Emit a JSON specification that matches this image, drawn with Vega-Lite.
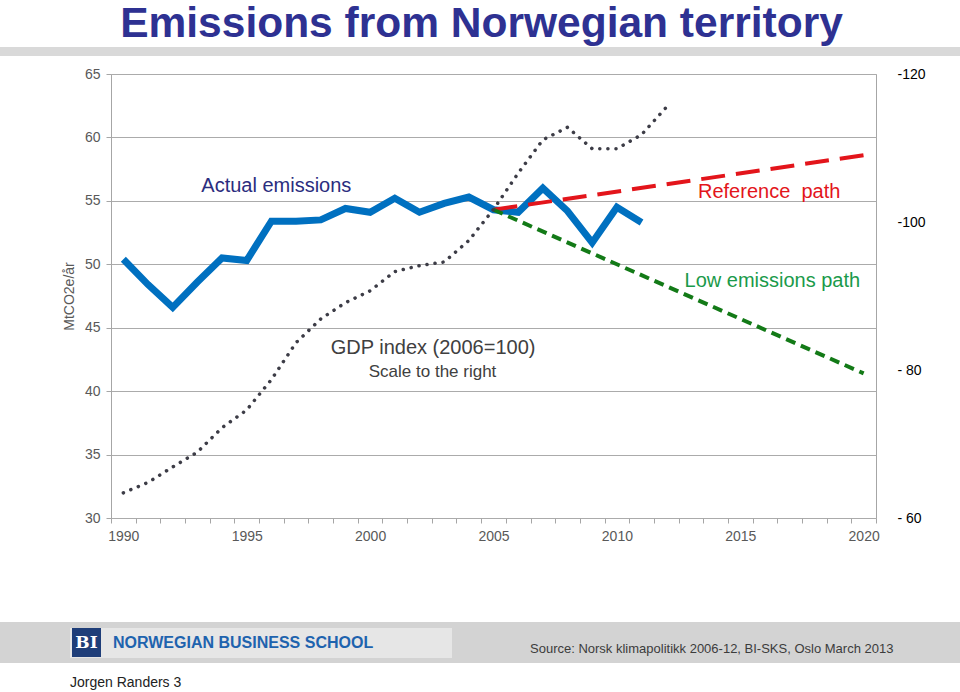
{
  "$schema": "https://vega.github.io/schema/vega-lite/v6.json",
  "autosize": {"type": "none"},
  "width": 765,
  "height": 444,
  "padding": {"left": 111, "top": 74, "right": 84, "bottom": 174},
  "background": "white",
  "title": {
    "text": "Emissions from Norwegian territory",
    "font": "Liberation Sans",
    "fontSize": 42.5,
    "fontWeight": "bold",
    "color": "#2E3192",
    "anchor": "middle",
    "frame": "group",
    "offset": 2,
    "dx": -12
  },
  "config": {
    "view": {"stroke": "#a6a6a6", "strokeWidth": 1},
    "font": "Liberation Sans",
    "axis": {
      "labelFont": "Liberation Sans",
      "titleFont": "Liberation Sans",
      "labelColor": "#595959",
      "labelFontSize": 14,
      "tickColor": "#a6a6a6",
      "domainColor": "#a6a6a6",
      "gridColor": "#ababab"
    }
  },
  "datasets": {
    "actual": [
      {"year": 1990, "emissions": 50.4},
      {"year": 1991, "emissions": 48.4},
      {"year": 1992, "emissions": 46.6},
      {"year": 1993, "emissions": 48.6},
      {"year": 1994, "emissions": 50.5},
      {"year": 1995, "emissions": 50.3},
      {"year": 1996, "emissions": 53.4},
      {"year": 1997, "emissions": 53.4},
      {"year": 1998, "emissions": 53.5},
      {"year": 1999, "emissions": 54.4},
      {"year": 2000, "emissions": 54.1},
      {"year": 2001, "emissions": 55.2},
      {"year": 2002, "emissions": 54.1},
      {"year": 2003, "emissions": 54.8},
      {"year": 2004, "emissions": 55.3},
      {"year": 2005, "emissions": 54.3},
      {"year": 2006, "emissions": 54.1},
      {"year": 2007, "emissions": 56.0},
      {"year": 2008, "emissions": 54.2},
      {"year": 2009, "emissions": 51.7},
      {"year": 2010, "emissions": 54.5},
      {"year": 2011, "emissions": 53.3}
    ],
    "reference": [
      {"year": 2005, "emissions": 54.3},
      {"year": 2020, "emissions": 58.6}
    ],
    "low": [
      {"year": 2005, "emissions": 54.3},
      {"year": 2020, "emissions": 41.4}
    ],
    "gdp": [
      {"year": 1990, "gdp": 63.4},
      {"year": 1991, "gdp": 64.8},
      {"year": 1992, "gdp": 66.9},
      {"year": 1993, "gdp": 68.9},
      {"year": 1994, "gdp": 72.2},
      {"year": 1995, "gdp": 74.6},
      {"year": 1996, "gdp": 78.7},
      {"year": 1997, "gdp": 83.7},
      {"year": 1998, "gdp": 86.9},
      {"year": 1999, "gdp": 89.1},
      {"year": 2000, "gdp": 90.7},
      {"year": 2001, "gdp": 93.3},
      {"year": 2002, "gdp": 94.1},
      {"year": 2003, "gdp": 94.6},
      {"year": 2004, "gdp": 97.5},
      {"year": 2005, "gdp": 101.7},
      {"year": 2006, "gdp": 106.6},
      {"year": 2007, "gdp": 111.1},
      {"year": 2008, "gdp": 112.8},
      {"year": 2009, "gdp": 109.9},
      {"year": 2010, "gdp": 109.9},
      {"year": 2011, "gdp": 111.8},
      {"year": 2012, "gdp": 115.5}
    ]
  },
  "layer": [
    {
      "layer": [
        {
          "data": {"name": "actual"},
          "mark": {"type": "line", "color": "#0070C0", "strokeWidth": 7, "strokeJoin": "miter", "strokeCap": "butt"},
          "encoding": {
            "x": {
              "field": "year",
              "type": "quantitative",
              "scale": {"domain": [1989.5, 2020.5], "nice": false, "zero": false},
              "axis": {
                "orient": "bottom",
                "title": null,
                "values": [1989.5, 1990.5, 1991.5, 1992.5, 1993.5, 1994.5, 1995.5, 1996.5, 1997.5, 1998.5, 1999.5, 2000.5, 2001.5, 2002.5, 2003.5, 2004.5, 2005.5, 2006.5, 2007.5, 2008.5, 2009.5, 2010.5, 2011.5, 2012.5, 2013.5, 2014.5, 2015.5, 2016.5, 2017.5, 2018.5, 2019.5, 2020.5],
                "tickCount": 40,
                "labels": false,
                "tickSize": 5,
                "grid": false,
                "domain": false
              }
            },
            "y": {
              "field": "emissions",
              "type": "quantitative",
              "scale": {"domain": [30, 65], "nice": false, "zero": false},
              "axis": {
                "title": "MtCO2e/år",
                "titleFontSize": 14,
                "titleFontWeight": "normal",
                "titleColor": "#595959",
                "titlePadding": 8,
                "values": [30, 35, 40, 45, 50, 55, 60, 65],
                "grid": true,
                "tickSize": 5,
                "labelPadding": 6,
                "domain": false
              }
            }
          }
        },
        {
          "data": {"name": "reference"},
          "mark": {"type": "line", "color": "#E3151B", "strokeWidth": 4, "strokeDash": [24, 11]},
          "encoding": {
            "x": {"field": "year", "type": "quantitative"},
            "y": {"field": "emissions", "type": "quantitative"}
          }
        },
        {
          "data": {"name": "low"},
          "mark": {"type": "line", "color": "#137A17", "strokeWidth": 4, "strokeDash": [10, 6]},
          "encoding": {
            "x": {"field": "year", "type": "quantitative"},
            "y": {"field": "emissions", "type": "quantitative"}
          }
        },
        {
          "data": {"values": [{}]},
          "mark": {"type": "text", "text": "Actual emissions", "fontSize": 20, "color": "#2B2D7E", "align": "center", "baseline": "middle"},
          "encoding": {"x": {"datum": 1996.2, "type": "quantitative"}, "y": {"datum": 56.2, "type": "quantitative"}}
        },
        {
          "data": {"values": [{}]},
          "mark": {"type": "text", "text": "Reference\u00a0\u00a0path", "fontSize": 20, "color": "#E3151B", "align": "center", "baseline": "middle"},
          "encoding": {"x": {"datum": 2016.17, "type": "quantitative"}, "y": {"datum": 55.67, "type": "quantitative"}}
        },
        {
          "data": {"values": [{}]},
          "mark": {"type": "text", "text": "Low emissions path", "fontSize": 20, "color": "#1A9A4A", "align": "center", "baseline": "middle"},
          "encoding": {"x": {"datum": 2016.3, "type": "quantitative"}, "y": {"datum": 48.66, "type": "quantitative"}}
        },
        {
          "data": {"values": [{}]},
          "mark": {"type": "text", "text": "GDP index (2006=100)", "fontSize": 20, "color": "#404040", "align": "center", "baseline": "middle"},
          "encoding": {"x": {"datum": 2002.55, "type": "quantitative"}, "y": {"datum": 43.4, "type": "quantitative"}}
        },
        {
          "data": {"values": [{}]},
          "mark": {"type": "text", "text": "Scale to the right", "fontSize": 17, "color": "#404040", "align": "center", "baseline": "middle"},
          "encoding": {"x": {"datum": 2002.53, "type": "quantitative"}, "y": {"datum": 41.5, "type": "quantitative"}}
        }
      ]
    },
    {
      "data": {"name": "gdp"},
      "mark": {"type": "line", "color": "#3C3C46", "strokeWidth": 3.5, "strokeDash": [0.1, 8], "strokeCap": "round"},
      "encoding": {
        "x": {
          "field": "year",
          "type": "quantitative",
          "axis": {
            "orient": "bottom",
            "title": null,
            "values": [1990, 1995, 2000, 2005, 2010, 2015, 2020],
            "format": "d",
            "ticks": false,
            "domain": false,
            "grid": false,
            "labelOverlap": false,
            "labelFlush": false,
            "labelPadding": 11
          }
        },
        "y": {
          "field": "gdp",
          "type": "quantitative",
          "scale": {"domain": [60, 120], "nice": false, "zero": false},
          "axis": {
            "orient": "right",
            "title": null,
            "values": [60, 80, 100, 120],
            "labelExpr": "datum.value == 120 ? '-120' : datum.value == 100 ? '-100' : datum.value == 80 ? '- 80' : '- 60'",
            "labelColor": "#000000",
            "labelAlign": "left",
            "labelPadding": 21,
            "ticks": false,
            "domain": false,
            "grid": false
          }
        }
      }
    },
    {
      "data": {"values": [{}]},
      "mark": {"type": "rect", "color": "#d9d9d9"},
      "encoding": {"x": {"value": -111}, "x2": {"value": 849}, "y": {"value": -27}, "y2": {"value": -18}}
    },
    {
      "data": {"values": [{}]},
      "mark": {"type": "rect", "color": "#d3d3d3"},
      "encoding": {"x": {"value": -111}, "x2": {"value": 849}, "y": {"value": 548}, "y2": {"value": 589}}
    },
    {
      "data": {"values": [{}]},
      "mark": {"type": "rect", "color": "#e6e6e6"},
      "encoding": {"x": {"value": -41}, "x2": {"value": 341}, "y": {"value": 554}, "y2": {"value": 584}}
    },
    {
      "data": {"values": [{}]},
      "mark": {"type": "rect", "color": "#1F3E79"},
      "encoding": {"x": {"value": -39}, "x2": {"value": -10}, "y": {"value": 554}, "y2": {"value": 583}}
    },
    {
      "data": {"values": [{}]},
      "mark": {"type": "text", "text": "BI", "font": "DejaVu Serif", "fontWeight": "bold", "fontSize": 17, "color": "white", "align": "center", "baseline": "middle"},
      "encoding": {"x": {"value": -24.5}, "y": {"value": 569}}
    },
    {
      "data": {"values": [{}]},
      "mark": {"type": "text", "text": "NORWEGIAN BUSINESS SCHOOL", "fontSize": 16, "fontWeight": "bold", "color": "#1E63AE", "align": "left", "baseline": "middle"},
      "encoding": {"x": {"value": 2}, "y": {"value": 569}}
    },
    {
      "data": {"values": [{}]},
      "mark": {"type": "text", "text": "Source: Norsk klimapolitikk 2006-12, BI-SKS, Oslo March 2013", "fontSize": 13, "color": "#3c3c3c", "align": "left", "baseline": "middle"},
      "encoding": {"x": {"value": 419}, "y": {"value": 575}}
    },
    {
      "data": {"values": [{}]},
      "mark": {"type": "text", "text": "Jorgen Randers 3", "fontSize": 14, "color": "#222222", "align": "left", "baseline": "middle"},
      "encoding": {"x": {"value": -41}, "y": {"value": 609}}
    }
  ],
  "resolve": {"scale": {"y": "independent"}, "axis": {"x": "independent"}}
}
